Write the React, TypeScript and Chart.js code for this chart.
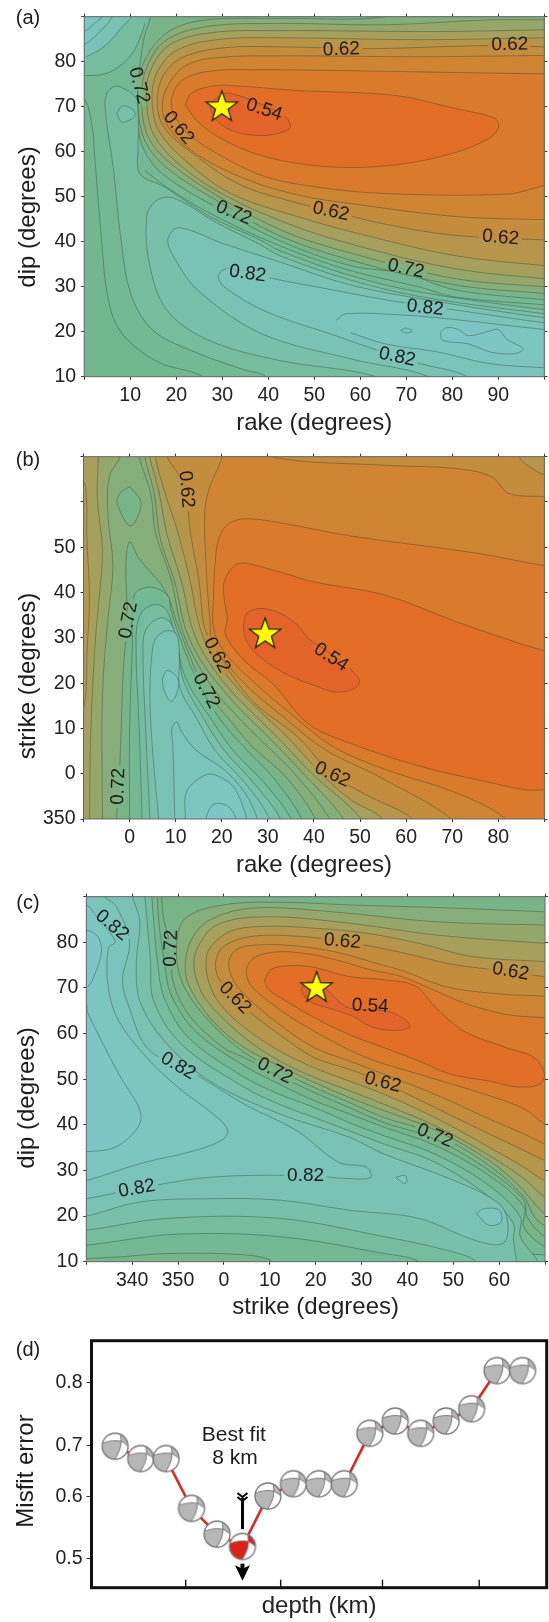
import React, { useEffect, useRef } from "react";
import { Chart, registerables } from "chart.js";

Chart.register(...registerables);

type P = [number, number];
const FONT = '"Liberation Sans", Arial, sans-serif';

// ---------- colours of the misfit bands ----------
const c54 = "#e3642b", c56 = "#e36e28", c58 = "#da7a2c", c60 = "#cf8433", c62 = "#c48c3d", c64 = "#b7964c",
  c66 = "#a79f5c", c68 = "#96a76c", c70 = "#86ae7b", c72 = "#78b488";
const t74 = "#74b993", t76 = "#76bd9f", t78 = "#78c0aa", t80 = "#7ac3b4", t82 = "#7bc4bb", t84 = "#7cc5c1", t86 = "#7dc6c5";
const base = "#72b78e";
const lineColour = "rgba(45,60,50,0.48)";

// ---------- panel (a): rake / dip contours ----------
const aT0: P[] = [[25.8,7],[25.8,10],[16,13.3],[8.3,19.5],[5.3,26.8],[3.7,41.3],[2.2,60.2],[1.8,65.3],[0,71.8],[-3,72],[-3,93],[103,93],[103,7]];
const aU1: P[] = [[-3,77],[0,76.9],[4.5,77.3],[8.3,79.5],[11,82.7],[13.6,90],[13.6,93],[-3,93]];
const aU2: P[] = [[-3,80],[0,80.9],[4.5,83.5],[8.3,87.8],[10.2,90],[10.2,93],[-3,93]];
const aU3: P[] = [[-3,83],[0,83.8],[3,86.3],[6.1,90],[6.1,93],[-3,93]];
const aU4: P[] = [[-3,86],[0,86.7],[2.2,88.5],[3.8,90],[3.8,93],[-3,93]];
const aT1: P[] = [[39.5,7],[39.5,10],[34.9,11.5],[25,15.1],[15.1,20.2],[10.2,28.2],[7.9,41.3],[6.4,55.8],[4.5,70.4],[5.3,73.6],[7.5,74.5],[11.7,71.1],[11.7,60.9],[12.1,55.1],[17.4,52.2],[27.3,45.6],[38,40.5],[42.5,38],[57.8,32.5],[73,28.8],[100,24.9],[103,24.9],[103,7]];
const aPocket: P[] = [[7.1,68.5],[8.3,70.2],[10.6,69.3],[11,67.8],[8.7,66.6],[8,66.7]];
const aT2: P[] = [[63.5,7],[63.5,10],[42.5,13.6],[27.3,18],[18.2,24.5],[14.4,34],[13.6,45.6],[15.9,49.3],[19.7,49.6],[28.8,44.2],[38,39.5],[42.5,36.9],[57.8,31.5],[73,27.8],[100,24],[103,24],[103,7]];
const aT3: P[] = [[74.9,7],[74.9,10],[57.8,14],[38.7,19.5],[25,28.9],[19.7,36.2],[18.2,40.5],[20.5,43.1],[30.4,39.5],[42.5,35.5],[57.8,30.4],[76.8,26.7],[100,23.1],[103,23.1],[103,7]];
const aT4: P[] = [[83.3,7],[83.3,10],[72.2,13.1],[63.9,15.8],[54.7,19.1],[39.5,24.5],[30.4,30],[29.2,32.5],[31.1,34],[41,31.8],[52.4,29.6],[67.7,26.7],[82.9,24.5],[100,22],[103,22],[103,7]];
const aT5: P[] = [[54.7,22.5],[57,24],[69.2,23.7],[80.6,22.7],[100,20.5],[103,20.5],[103,12],[100,12],[88.2,12.9],[76.8,15.5],[65.4,17.3],[57.8,19.8]];
const aT6: P[] = [[68.8,20.3],[69.9,20.8],[71.3,20.2],[69.9,19.7]];
const aT7: P[] = [[77.4,19.8],[78.7,20.9],[81.3,20.5],[83.5,19.1],[88.2,20.2],[90,20.5],[91.9,18.3],[95.4,16.2],[93.5,15.1],[88.2,15.5],[83.5,17.3],[77.9,18.1]];
const a74: P[] = [[13.2,55.8],[17.4,52.5],[26.6,46.7],[42.5,39.1],[57.8,33.6],[73,29.9],[80.6,27.7],[100,26],[103,26],[103,93],[13.2,93]];
const a72: P[] = [[14.4,93],[14.4,90],[12.9,84.9],[11.7,74.7],[11.7,68.9],[12.5,61.6],[17,55.1],[30.4,46.7],[42.5,40.2],[57.8,34.7],[69.9,32.9],[80.6,29.3],[100,27.1],[103,27],[103,93]];
const a70: P[] = [[65.4,93],[65.4,90],[42.5,89.6],[25.7,89.2],[17.4,86],[12.4,78.4],[11.7,70.4],[13.2,62.4],[18.2,56.2],[30.4,48.2],[42.5,41.3],[59.3,35.5],[80.6,30.4],[100,28.5],[103,28.3],[103,93]];
const a68: P[] = [[103,89.3],[100,89.3],[88.2,89.3],[65.4,88.2],[42.5,88.5],[26.6,87.8],[17.4,84.5],[13.2,77.6],[12.5,70.4],[14,63.1],[18.9,57.3],[30.4,49.3],[44.1,42],[60,36.9],[80.6,31.8],[100,30],[103,30]];
const a66: P[] = [[103,87.1],[100,87.1],[76.8,86.7],[42.5,86.9],[27.3,86.4],[18.2,83.5],[14,76.9],[13.6,70.4],[15.1,63.8],[20.5,57.3],[30.4,50.4],[45.6,43.5],[60.8,38.7],[80.6,34],[100,31.8],[103,31.8]];
const a64: P[] = [[103,85.3],[100,85.3],[73,84.9],[42.5,85.3],[28.8,84.9],[19.7,82.3],[15.5,76.8],[14.8,70.4],[16.3,64.5],[22,58],[31.9,50.7],[46.3,45.6],[61.6,41.3],[80.6,36.9],[100,34.7],[103,34.7]];
const a62: P[] = [[103,83.3],[100,83.3],[88.2,83.6],[61.6,82.9],[42.5,83.3],[30.4,83.1],[21.2,80.9],[17,76.5],[15.9,70.4],[17.4,65.3],[22.8,60.2],[33.4,52.9],[44.8,49],[53.6,46.8],[65.4,43.9],[80.6,41.4],[100,40.4],[103,40.4]];
const a60: P[] = [[103,81.4],[100,81.4],[73,81.1],[42.5,81.3],[28.8,80.9],[22,79.1],[18.2,74.7],[17,70.4],[18.2,65.6],[24.3,59.5],[34.9,54],[46.3,50.4],[57.8,48.5],[80.6,45.6],[100,44.9],[103,44.9]];
const a58: P[] = [[103,77.3],[100,77.3],[80.6,77.6],[57.8,78],[38.7,78.2],[27.3,77.9],[21.2,75.8],[19,71.8],[19.5,68.2],[22.8,63.8],[30.4,58.7],[39.5,54.4],[50.2,52.2],[65.4,50.7],[92,50.6],[100,52.5],[103,53]];
const a56: P[] = [[22,70.4],[23.1,72.9],[27.3,74.5],[31.9,74.7],[46.3,73.6],[67.7,72.5],[80.6,69.6],[89.1,67.5],[90.1,65.6],[88.2,63.1],[80.6,59.8],[69.2,57.3],[57.8,56.5],[46.3,57.4],[36.5,59.8],[28.8,63.5],[24.3,67.1]];
const a54: P[] = [[27.4,69.6],[29.3,66.4],[33.5,64.2],[38.8,63.6],[42.6,64.2],[44.8,65.4],[43.7,67.8],[38.8,70.4],[33.5,72.5],[30.9,73],[28.1,71.4]];
const aStar: P = [29.9, 70.1];
const aXLabels = [10, 20, 30, 40, 50, 60, 70, 80, 90];
const aYLabels = [10, 20, 30, 40, 50, 60, 70, 80];
const aText: [string, number, number, number][] = [
  ["0.62", 55.9, 82.7, -2], ["0.62", 92.5, 83.8, -1], ["0.72", 11.9, 74.7, 75], ["0.54", 39.1, 69.3, 18],
  ["0.62", 20.5, 65.3, 50], ["0.72", 32.5, 46.4, 22], ["0.62", 53.6, 46.7, 12], ["0.62", 90.5, 40.9, 5],
  ["0.72", 69.9, 34, 12], ["0.82", 35.5, 32.9, 8], ["0.82", 74.1, 25.3, 6], ["0.82", 68, 14.4, 12],
];

// ---------- panel (b): rake / strike contours (strike 350 is -10) ----------
const bL70: P[] = [[-2.1,73],[-2.1,69.9],[-4.4,65.6],[-4.7,56.8],[-3.6,45.9],[-4.7,34.3],[-5.9,16.9],[-5.9,-9.9],[-5.9,-13],[-13,-13],[-13,73]];
const bL68: P[] = [[-6.8,73],[-6.8,69.9],[-7,60.5],[-5.9,49.6],[-6.6,38.7],[-7.4,29.9],[-8.4,9.6],[-8.7,-9.9],[-8.7,-13],[-13,-13],[-13,73]];
const bL66: P[] = [[-13,14],[-10.1,14],[-9.2,27.8],[-8.7,38.7],[-9.3,53.2],[-9.3,59.7],[-10.1,64.8],[-13,65]];
const bHex: P[] = [[0.1,63.4],[2.5,59.7],[0.2,54.7],[-2.7,59.7],[-2.1,61.9]];
const bG72: P[] = [[-2.8,-13],[-2.8,-9.9],[-2.1,2.3],[-1.3,24.1],[-0.5,33.9],[-0.8,45.9],[0,51.2],[2.1,47.4],[7.5,40.8],[10.2,33.6],[13.2,25.6],[16.6,18.3],[21.2,12.5],[26.6,6],[33.8,-0.6],[40.3,-9.9],[40.3,-13]];
const bG74: P[] = [[0,-13],[0,-9.9],[0,9.6],[0.6,27.8],[1,39.4],[4.4,41.2],[8.2,39.4],[9,35.8],[11.7,27.8],[14.4,21.2],[19.3,12.5],[24.7,6],[31.5,-1.3],[37.3,-9.9],[37.3,-13]];
const bG76: P[] = [[2.7,-13],[2.7,-9.9],[2.1,9.6],[1.4,29.9],[2.5,35.4],[5.6,37.4],[8.2,35.8],[10.2,28.5],[12.4,20.5],[17.4,12.5],[22.4,5.2],[29.2,-2],[35,-9.9],[35,-13]];
const bG78: P[] = [[4.4,-13],[4.4,-9.9],[3.5,9.6],[2.9,27.8],[3.7,32.1],[6.7,34.4],[9,33.2],[10.5,27.8],[11.7,20.5],[15.9,12.5],[20.5,5.2],[26.9,-2],[32.7,-9.9],[32.7,-13]];
const bG80: P[] = [[6.3,-13],[6.3,-9.9],[5.2,2.3],[4.4,16.9],[5,27.8],[6,30.3],[8.2,31.6],[10.2,30.7],[10.8,25.6],[10.9,19],[14.4,12.5],[18.5,5.2],[25,-2],[30.4,-9.9],[30.4,-13]];
const bG82: P[] = [[9.8,-13],[9.8,-9.9],[9.4,6],[9.2,10],[10.2,11.4],[11.3,9.2],[14.4,5.2],[20.5,0.9],[25,-4.2],[27.7,-9.9],[27.7,-13]];
const bG84a: P[] = [[7.1,20.9],[8.2,22.8],[10.5,20.9],[10.2,17.6],[9,16],[7.5,18.3]];
const bG84b: P[] = [[12.1,-13],[12.1,-9.9],[12.4,-3.9],[16.6,-0.2],[19.3,-0.6],[22.7,-3.1],[25.4,-9.9],[25.4,-13]];
const bG86: P[] = [[16.6,-13],[16.6,-9.9],[18.2,-6.8],[21.2,-7.1],[23.1,-9.9],[23.1,-13]];
const b70: P[] = [[2.1,73],[2.1,69.9],[4.6,61.9],[5.6,53.2],[9,43],[11.3,32.1],[14.4,24.9],[18.5,18.3],[23.5,12.5],[29.2,6.7],[35.7,0.1],[43.4,-9.9],[43.4,-13],[93,-13],[93,73]];
const b68: P[] = [[3.3,73],[3.3,69.9],[5.2,62.6],[6.7,51.7],[9.8,42.3],[12.1,32.1],[15.5,24.9],[20.1,18.7],[25,13.2],[30.8,7.4],[37.6,0.1],[46.4,-9.9],[46.4,-13],[93,-13],[93,73]];
const b66: P[] = [[4.4,73],[4.4,69.9],[6.3,62.6],[8.2,52.5],[11.3,42.3],[13.6,32.1],[16.6,25.6],[22,18.3],[26.9,13.2],[32.7,7.4],[39.5,0.1],[50.2,-9.9],[50.2,-13],[93,-13],[93,73]];
const b64: P[] = [[5.6,73],[5.6,69.9],[7.5,62.6],[10.5,53.2],[13.2,42.3],[15.1,32.8],[17.8,26.3],[23.9,18.3],[28.9,13.2],[34.2,8.1],[41.5,0.1],[47.9,-5.7],[54.8,-9.9],[54.8,-13],[93,-13],[93,73]];
const b62: P[] = [[93,65.9],[90.3,65.9],[86.9,67.7],[84.6,69.9],[84.6,73],[8.2,73],[8.2,69.9],[10.5,66.3],[12.1,63],[13.2,53.2],[15.1,42.3],[16.3,32.1],[19.3,26.3],[26.6,16.1],[36.5,8.1],[44,-0.2],[51.8,-4.9],[61.3,-9.9],[61.3,-13],[93,-13]];
const b60: P[] = [[93,61.2],[90.3,61.2],[82.3,61.9],[78.5,65.6],[70.8,67.4],[55.6,68.1],[31.1,69.9],[31.1,73],[20.1,73],[20.1,69.9],[17.4,63.4],[16.3,57.6],[16.6,45.9],[17.4,34.3],[18.2,28.5],[25,19.8],[33.4,12.5],[42.6,5.2],[54,-0.6],[69.7,-9.9],[69.7,-13],[93,-13]];
const b58: P[] = [[93,45.9],[90.3,45.9],[74.7,48.8],[47.9,52.5],[32.7,55.4],[25,56.3],[21.2,55],[19.3,51.7],[18.5,45.9],[18.2,38.7],[18.2,32.1],[20.5,27],[26.6,20.5],[35,13.2],[44.1,6],[55.6,0.9],[70.8,-4.2],[81.5,-9.9],[81.5,-13],[93,-13]];
const b56: P[] = [[93,27],[90.3,27],[70.8,33.6],[55.6,39.4],[40.3,42.3],[32.7,44.5],[25,46.5],[22.7,45.9],[20.5,42.3],[20.5,38.7],[21.2,34.3],[20.8,30.7],[25,24.9],[31.1,19.8],[38.8,11],[47.9,6.7],[63.2,1.6],[78.5,-2],[86.1,-3.6],[90.3,-3.5],[93,-3.5]];
const b54: P[] = [[24.7,32.8],[25.4,35.4],[28.5,36.5],[32.7,35.4],[36.5,32.8],[38.8,29.9],[44.9,25.6],[49.8,20.9],[49.1,19],[44.9,18],[40.3,19.4],[34.2,21.9],[28.5,25.6],[25.4,29.2]];
const bStar: P = [29.4, 31];
const bXLabels = [0, 10, 20, 30, 40, 50, 60, 70, 80];
const bYLabels = [0, 10, 20, 30, 40, 50];
const bStrikeWrap = -10; // shown as 350 on the axis
const bText: [string, number, number, number][] = [
  ["0.62", 12.3, 62.8, 85], ["0.72", -0.2, 33.9, -80], ["0.62", 18.9, 26.2, 62], ["0.72", 16.6, 18.3, 62],
  ["0.54", 43.7, 25.7, 33], ["0.62", 44, -0.2, 25], ["0.72", -2.4, -2.8, -88],
];

// ---------- panel (c): strike / dip contours (strike 340, 350 are -20, -10) ----------
const c74p: P[] = [[10.6,7],[10.6,10],[4.5,11.5],[-12.3,11.8],[-22.1,11.1],[-30,10.7],[-33,10.7],[-33,93],[-14.5,93],[-14.5,90],[-14.2,84.5],[-13,75.8],[-11.5,68.5],[-6.2,60.5],[4.5,52.9],[12.1,48.9],[19.7,45.3],[27.3,42.4],[34.9,39.5],[46,35.5],[57.8,28.9],[65.4,22],[65.4,17.6],[69.9,13.3],[73,13],[73,7]];
const c76p: P[] = [[42.5,7],[42.5,10],[34.9,11.8],[12.1,15.5],[-10.7,16],[-30,13.6],[-33,13.6],[-33,93],[-15.7,93],[-15.7,90],[-15.3,84.5],[-14.5,75.8],[-13,67.8],[-7.7,59.1],[4.5,50.4],[12.1,46.7],[19.7,43.8],[27.3,40.5],[34.9,37.6],[46,33.6],[57.8,26.7],[64.6,19.8],[64.6,15.5],[68.4,10],[68.4,7]];
const c78p: P[] = [[55.1,7],[55.1,10],[48.6,12.5],[34.9,15.5],[12.1,19.5],[-12.3,19.5],[-30,16.9],[-33,16.9],[-33,93],[-17.2,93],[-17.2,90],[-16.8,85.3],[-16,75.8],[-15.3,67.1],[-9.2,57.6],[4.5,48.2],[12.1,44.5],[19.7,41.6],[27.3,38.7],[34.9,35.8],[46,31.8],[57.8,24.2],[63.1,18.4],[63.1,14.7],[63.8,10],[63.8,7]];
const c80p: P[] = [[-33,20],[-30,20],[-18.3,23.1],[-3.1,23.8],[12.1,23.5],[27.3,21.3],[42.5,19.5],[54.7,14.7],[60.8,14],[61.9,18.4],[60,22.7],[50.2,27.8],[34.9,33.6],[27.3,37.3],[12.1,42.4],[-3.1,49.6],[-13,58.4],[-18.3,67.1],[-19.1,75.8],[-18.3,84.5],[-19.9,90],[-19.9,93],[-33,93]];
const c82p: P[] = [[-33,23.8],[-30,23.8],[-19.1,26],[-3.1,28.5],[17.8,28.9],[27.3,28.2],[32,28.5],[31.1,30.7],[25,31.8],[15.9,38.7],[4.5,44.5],[-6.2,51.1],[-10,52.9],[-16.8,56.9],[-20.6,65.6],[-22.1,71.5],[-20.6,80.2],[-23.7,88.2],[-26,90],[-26,93],[-33,93]];
const c84p: P[] = [[-33,27.8],[-30,27.8],[-18.3,31.5],[-6.2,34.4],[-0.1,36.9],[0.7,39.1],[-2.4,42.4],[-10,48.2],[-16.8,54.7],[-22.9,62.7],[-25.2,70],[-25.2,78.7],[-23.7,80.2],[-27.5,85.3],[-30,88.2],[-33,88.2]];
const cA: P[] = [[-33,66.4],[-30,66.4],[-29.8,64.9],[-26.7,58.4],[-22.9,51.1],[-18.3,43.1],[-18.7,39.5],[-23.7,35.1],[-30,34.1],[-33,34.1]];
const cB: P[] = [[-33,82.7],[-30,82.7],[-27.5,81.3],[-26.7,78],[-28.2,72.9],[-30,70],[-33,70]];
const cSmall: P[] = [[37.6,28.5],[39.5,28.9],[39.9,27.5],[39.1,27.2]];
const cLoop: P[] = [[55.1,20.5],[56.6,21.6],[60,21.3],[60.4,18.7],[57.8,18]];
const cCorner: P[] = [[63.8,7],[63.8,10],[66.1,11.5],[69.9,11.5],[73,11.5],[73,7]];
const c72p: P[] = [[-13.6,93],[-13.6,90],[-13,84.5],[-11.5,78.7],[-11.1,71.5],[-7.7,64.2],[-0.1,56.9],[4.5,54.7],[12.1,50.7],[19.7,47.1],[27.3,43.8],[34.9,40.5],[46,36.9],[57.8,30],[65.4,23.5],[66.1,19.8],[69.9,15.5],[73,15],[73,93]];
const c70p: P[] = [[73,86.7],[69.9,86.7],[50.2,87.5],[27.3,88.2],[12.1,88.8],[-0.1,88.2],[-8.4,85.3],[-10.3,79.5],[-9.2,71.5],[-3.9,63.5],[4.5,55.8],[12.1,51.8],[19.7,48.2],[27.3,44.9],[34.9,41.6],[46,38],[57.8,31.1],[65.4,24.2],[67.7,19.8],[69.9,18],[73,18]];
const c68p: P[] = [[73,83.8],[69.9,83.8],[46.3,84.5],[23.5,86.7],[6,87.5],[-3.1,84.9],[-6.9,80.9],[-8.4,75.8],[-7.7,70.7],[-2.4,62.7],[4.5,56.9],[12.1,52.9],[19.7,49.3],[27.3,46],[34.9,43.1],[46,38.9],[57.8,32.2],[64.6,26.4],[69.9,20.5],[73,20]];
const c66p: P[] = [[73,79.8],[69.9,79.8],[46.3,81.6],[27.3,84.2],[9.1,85.6],[-1.6,83.8],[-5.8,78.7],[-6.5,74.4],[-5,69.3],[-2.4,65.6],[4.5,59.1],[12.1,54],[19.7,50.4],[27.3,47.5],[34.9,44.5],[46,39.8],[57.8,33.3],[65.4,28.2],[69.9,24.2],[73,23]];
const c64p: P[] = [[73,75.8],[69.9,75.8],[54,76.9],[42.5,79.8],[31.1,82],[19.7,83.1],[9.1,83.5],[1.4,82.4],[-3.1,78.7],[-3.9,75.1],[-3.1,70.7],[-0.8,66.4],[4.5,61.3],[12.1,56.2],[19.7,52.5],[27.3,49.6],[34.9,46.7],[46,41.6],[57.8,35.1],[65.4,30.7],[69.9,27.8],[73,27]];
const c62p: P[] = [[73,72.5],[69.9,72.5],[62.3,73.6],[50.2,75.1],[42.5,76.9],[33.4,78.9],[25.8,80.2],[16.7,81.3],[6,81.3],[-0.1,79.1],[-1.8,75.8],[-1.2,72.2],[2.2,67.8],[4.5,65.6],[12.1,59.8],[19.7,54.7],[27.3,52.2],[34.6,49.3],[46,43.8],[57.8,38],[65.4,34.4],[69.9,32.2],[73,31]];
const c60p: P[] = [[73,68.2],[69.9,68.2],[57.8,68.9],[47.9,70.4],[39.5,73.6],[31.9,75.8],[24.3,77.9],[16.7,79.1],[9.1,79.5],[3,78.6],[1.1,75.8],[1.8,72.2],[4.5,68.5],[12.1,62],[19.7,56.9],[27.3,54],[34.9,51.1],[46,46.7],[57.8,41.3],[65.4,38],[69.9,35.8],[73,35]];
const c58p: P[] = [[73,63.5],[69.9,63.5],[61.6,64.2],[52.4,66.7],[45.6,69.6],[38.7,72.5],[31.9,74],[24.3,76.2],[17.4,77.6],[11.3,77.9],[6.4,76.5],[4.9,73.6],[6,70.4],[12.1,65.3],[19.7,60.5],[31.1,54.7],[42.5,51.1],[57.8,46.4],[65.4,43.5],[69.9,40.2],[73,39]];
const c56p: P[] = [[8.8,71.5],[10.2,74],[14.4,74.9],[19.7,74.5],[27.3,72.5],[34.9,71.8],[41.8,70.4],[46.3,65.6],[52.4,60.5],[61.6,56.9],[67.7,54.7],[69.9,51.1],[68.8,48.9],[63.9,48.3],[57.8,49.6],[49.4,51.1],[42.5,54],[34.9,56.9],[27.3,59.8],[19.7,63.5],[13.6,67.1],[9.8,69.6]];
const c54p: P[] = [[16.7,69.6],[18.6,71.5],[22,70],[24.3,67.8],[27.3,65.6],[35.7,64.9],[39.9,62.7],[40.4,61.3],[36.5,60.7],[31.9,61.6],[28.1,63.8],[22.8,65.6],[18.6,67.1]];
const cStar: P = [20.2, 70.2];
const cXLabels = [-20, -10, 0, 10, 20, 30, 40, 50, 60];
const cXNames = ["340", "350", "0", "10", "20", "30", "40", "50", "60"];
const cYLabels = [10, 20, 30, 40, 50, 60, 70, 80];
const cText: [string, number, number, number][] = [
  ["0.82", -24.4, 83.7, 40], ["0.72", -11.5, 78.7, -88], ["0.62", 25.8, 80.2, 5], ["0.62", 62.5, 73.6, 10],
  ["0.62", 2.4, 67.8, 45], ["0.54", 31.9, 66, 3], ["0.82", -10, 52.9, 30], ["0.72", 11.1, 51.8, 27],
  ["0.62", 34.6, 49.3, 15], ["0.72", 46, 37.6, 22], ["0.82", 17.8, 28.9, 0], ["0.82", -19, 26, -10],
];

// ---------- panel (d): misfit against depth ----------
const depths = [3, 4, 5, 6, 7, 8, 9, 10, 11, 12, 13, 14, 15, 16, 17, 18, 19];
const misfit = [0.692, 0.671, 0.671, 0.586, 0.542, 0.521, 0.607, 0.628, 0.628, 0.628, 0.714, 0.735, 0.714, 0.735, 0.756, 0.821, 0.821];
const bestDepth = 8;
const misfitTicks = [0.5, 0.6066, 0.693, 0.8];
const misfitTickNames = ["0.5", "0.6", "0.7", "0.8"];
const depthTicks = [5.77, 9.5, 13.5, 17.3];

// ---------- drawing helpers ----------
function makeStar() {
  const cv = document.createElement("canvas");
  cv.width = 38; cv.height = 38;
  const g = cv.getContext("2d")!;
  g.translate(19, 20);
  g.beginPath();
  for (let i = 0; i < 10; i++) {
    const r = i % 2 === 0 ? 16.5 : 6.6;
    const a = -Math.PI / 2 + (i * Math.PI) / 5;
    const px = r * Math.cos(a), py = r * Math.sin(a);
    if (i === 0) g.moveTo(px, py); else g.lineTo(px, py);
  }
  g.closePath();
  g.fillStyle = "#ffff00"; g.fill();
  g.lineWidth = 1.2; g.strokeStyle = "#1a1a1a"; g.stroke();
  return cv;
}

function makeBall(fill: string) {
  const cv = document.createElement("canvas");
  cv.width = 32; cv.height = 32;
  const g = cv.getContext("2d")!;
  g.translate(16, 16);
  g.beginPath(); g.arc(0, 0, 13, 0, Math.PI * 2); g.fillStyle = "#fff"; g.fill();
  g.save(); g.clip();
  g.fillStyle = fill;
  g.beginPath(); g.moveTo(-15, -2); g.quadraticCurveTo(-4, -7, 6, -5); g.quadraticCurveTo(6, 5, -2, 15); g.lineTo(-15, 15); g.closePath(); g.fill();
  g.beginPath(); g.moveTo(6, -5); g.quadraticCurveTo(10, -3, 15, 2); g.lineTo(15, -15); g.lineTo(5, -15); g.closePath(); g.fill();
  g.strokeStyle = "#666"; g.lineWidth = 0.8;
  g.beginPath(); g.moveTo(-15, -2); g.quadraticCurveTo(-4, -7, 6, -5); g.quadraticCurveTo(10, -3, 15, 2); g.stroke();
  g.beginPath(); g.moveTo(5, -15); g.lineTo(6, -5); g.quadraticCurveTo(6, 5, -2, 15); g.stroke();
  g.restore();
  g.beginPath(); g.arc(0, 0, 13, 0, Math.PI * 2); g.strokeStyle = "#777"; g.lineWidth = 1.3; g.stroke();
  return cv;
}

function bandFor(label: string) {
  return label === "0.54" ? c56 : label === "0.62" ? c62 : label === "0.72" ? c72 : t82;
}

const contourPlugin = {
  id: "contourFill",
  beforeDatasetsDraw(chart: any) {
    const a = chart.chartArea;
    if (chart.options.plugins.contourFill?.base) {
      chart.ctx.fillStyle = chart.options.plugins.contourFill.base;
      chart.ctx.fillRect(a.left, a.top, a.width, a.height);
    }
  },
  beforeDatasetDraw(chart: any, args: any) {
    const ds = chart.data.datasets[args.index];
    if (!ds.regionFill) return;
    const { ctx, chartArea: a } = chart;
    ctx.save();
    ctx.beginPath(); ctx.rect(a.left, a.top, a.width, a.height); ctx.clip();
    args.meta.dataset.updateControlPoints(a, "x");
    ctx.beginPath();
    args.meta.dataset.path(ctx);
    ctx.closePath();
    ctx.fillStyle = ds.regionFill;
    ctx.fill();
    ctx.restore();
  },
  afterDatasetsDraw(chart: any) {
    const o = chart.options.plugins.contourFill || {};
    const { ctx, chartArea: a, scales } = chart;
    ctx.save();
    ctx.fillStyle = "#1c1c1c";
    ctx.textAlign = "center"; ctx.textBaseline = "middle";
    for (const [text, x, y, deg] of (o.labels || [])) {
      ctx.save();
      ctx.translate(scales.x.getPixelForValue(x), scales.y.getPixelForValue(y));
      ctx.rotate((deg * Math.PI) / 180);
      ctx.font = "19px " + FONT;
      const w = ctx.measureText(text).width;
      ctx.fillStyle = bandFor(text);
      ctx.fillRect(-w / 2 - 3, -2.5, w + 6, 5);
      ctx.fillStyle = "#1c1c1c";
      ctx.fillText(text, 0, 0);
      ctx.restore();
    }
    ctx.strokeStyle = o.frame || "#666";
    ctx.lineWidth = o.frameWidth || 1;
    ctx.strokeRect(a.left, a.top, a.width, a.height);
    ctx.restore();
  },
  afterDraw(chart: any) {
    const o = chart.options.plugins.contourFill || {};
    const { ctx } = chart;
    ctx.save();
    ctx.fillStyle = "#1c1c1c";
    ctx.textAlign = "center"; ctx.textBaseline = "middle";
    if (o.panel) { ctx.font = "20px " + FONT; ctx.fillText(o.panel, 28, o.panelY); }
    if (o.yTitle) {
      ctx.translate(o.yTitleX, o.yTitleY);
      ctx.rotate(-Math.PI / 2);
      ctx.font = "24px " + FONT;
      ctx.fillText(o.yTitle, 0, 0);
    }
    ctx.restore();
  },
};

const depthPlugin = {
  id: "depthExtras",
  afterDatasetsDraw(chart: any) {
    const { ctx, scales, chartArea: a } = chart;
    const xs = scales.x, ys = scales.y;
    ctx.save();
    ctx.strokeStyle = "#111"; ctx.lineWidth = 1.4;
    for (const v of depthTicks) {
      const px = xs.getPixelForValue(v);
      ctx.beginPath(); ctx.moveTo(px, a.bottom); ctx.lineTo(px, a.bottom - 8); ctx.stroke();
    }
    const bx = xs.getPixelForValue(bestDepth);
    ctx.strokeStyle = "#000"; ctx.lineWidth = 3;
    ctx.beginPath(); ctx.moveTo(bx, ys.getPixelForValue(0.5505)); ctx.lineTo(bx, ys.getPixelForValue(0.6037)); ctx.stroke();
    ctx.lineWidth = 2;
    for (const v of [0.5985, 0.6055]) {
      const py = ys.getPixelForValue(v);
      ctx.beginPath(); ctx.moveTo(bx - 5, py - 4); ctx.lineTo(bx, py); ctx.lineTo(bx + 5, py - 4); ctx.stroke();
    }
    const t = ys.getPixelForValue(0.4916), tip = ys.getPixelForValue(0.4624);
    ctx.fillStyle = "#000";
    ctx.fillRect(bx - 2, t, 4, 6);
    ctx.beginPath(); ctx.moveTo(bx - 7.5, t + 1.5); ctx.lineTo(bx, t + 5); ctx.lineTo(bx + 7.5, t + 1.5); ctx.lineTo(bx, tip); ctx.closePath();
    ctx.fill();
    ctx.fillStyle = "#1c1c1c"; ctx.font = "21px " + FONT; ctx.textAlign = "center"; ctx.textBaseline = "middle";
    ctx.fillText("Best fit", xs.getPixelForValue(7.66), ys.getPixelForValue(0.7114));
    ctx.fillText("8 km", xs.getPixelForValue(7.71), ys.getPixelForValue(0.671));
    ctx.restore();
  },
};

function axis(position: string, min: number, max: number, extra: any) {
  return {
    type: "linear", position, min, max,
    border: { display: false },
    grid: { drawOnChartArea: false, tickLength: 3, color: "#333", ...(extra.grid || {}) },
    ticks: { stepSize: 10, autoSkip: false, maxRotation: 0, ...(extra.ticks || {}) },
    afterFit: extra.afterFit,
    title: extra.title,
    afterBuildTicks: extra.afterBuildTicks,
  };
}

const tickFont = { family: FONT, size: 19.5 };

function contourConfig(p: any) {
  const layers: any[] = p.layers;
  const datasets: any[] = layers.map(([pts, colour, closed]: any, i: number) => ({
    type: "line",
    data: (closed ? [...pts, pts[0]] : pts).map(([x, y]: P) => ({ x, y })),
    regionFill: colour,
    borderColor: lineColour,
    borderWidth: 0.8,
    pointRadius: 0,
    fill: false,
    tension: 0.35,
    order: layers.length + 1 - i,
  }));
  datasets.push({
    type: "scatter",
    data: [{ x: p.star[0], y: p.star[1] }],
    pointStyle: makeStar(),
    pointRadius: 16,
    order: 0,
    clip: false,
  });
  const labelOf = p.xName;
  return {
    type: "line",
    data: { datasets },
    plugins: [contourPlugin],
    options: {
      animation: false, responsive: false, devicePixelRatio: 1,
      layout: { autoPadding: false, padding: 0 },
      elements: { line: { capBezierPoints: false } },
      plugins: {
        legend: { display: false }, tooltip: { enabled: false },
        contourFill: { base: p.base, labels: p.labels, panel: p.panel, panelY: p.panelY, yTitle: p.yTitle, yTitleX: p.yTitleX, yTitleY: p.yTitleY },
      },
      scales: {
        x: axis("bottom", p.xMin, p.xMax, {
          ticks: { font: tickFont, color: "#222", padding: 4, callback: labelOf },
          afterFit(s: any) { s.height = p.h - p.bottom; },
          title: { display: true, text: p.xTitle, color: "#222", font: { family: FONT, size: 24 }, padding: { top: 0, bottom: p.titlePad } },
        }),
        y: axis("left", p.yMin, p.yMax, {
          ticks: { font: tickFont, color: "#222", padding: 5, callback: p.yName },
          afterFit(s: any) { s.width = p.left; },
        }),
        x2: axis("top", p.xMin, p.xMax, { ticks: { display: false }, afterFit(s: any) { s.height = p.top; } }),
        y2: axis("right", p.yMin, p.yMax, { ticks: { display: false }, afterFit(s: any) { s.width = p.w - p.right; } }),
      },
    },
  };
}

const W = 549;

function depthConfig(top: number, h: number) {
  const grey = makeBall("#b7b7b7");
  const red = makeBall("#dc2118");
  return {
    type: "line",
    data: {
      datasets: [{
        data: depths.map((x, i) => ({ x, y: misfit[i] })),
        borderColor: "#e1261c", borderWidth: 2.6, tension: 0, fill: false,
        pointRadius: 13,
        pointStyle: depths.map((d) => (d === bestDepth ? red : grey)),
      }],
    },
    plugins: [contourPlugin, depthPlugin],
    options: {
      animation: false, responsive: false, devicePixelRatio: 1,
      layout: { autoPadding: false, padding: 0 },
      plugins: {
        legend: { display: false }, tooltip: { enabled: false },
        contourFill: { frame: "#111", frameWidth: 3, panel: "(d)", panelY: 1350 - top, yTitle: "Misfit error", yTitleX: 26, yTitleY: 1471 - top },
      },
      scales: {
        x: {
          type: "linear", position: "bottom", min: 2.07, max: 19.95, border: { display: false },
          grid: { display: false, drawTicks: false },
          ticks: { display: false },
          afterFit(s: any) { s.height = h - (1587.7 - top); },
          title: { display: true, text: "depth (km)", color: "#222", font: { family: FONT, size: 24 }, padding: { top: 0, bottom: 1 } },
        },
        y: {
          type: "linear", position: "left", min: 0.4506, max: 0.872, border: { display: false },
          grid: { drawOnChartArea: false, tickLength: 5, color: "#333" },
          afterBuildTicks(s: any) { s.ticks = misfitTicks.map((value) => ({ value })); },
          ticks: { font: tickFont, color: "#222", padding: 4, autoSkip: false, callback: (_: any, i: number) => misfitTickNames[i] },
          afterFit(s: any) { s.width = 91.5; },
        },
        x2: { type: "linear", position: "top", display: true, min: 0, max: 1, border: { display: false }, grid: { display: false, drawTicks: false }, ticks: { display: false }, afterFit(s: any) { s.height = 1337.5 - top; } },
        y2: { type: "linear", position: "right", display: true, min: 0, max: 1, border: { display: false }, grid: { display: false, drawTicks: false }, ticks: { display: false }, afterFit(s: any) { s.width = W - 546.7; } },
      },
    },
  };
}

function Panel({ top, h, make }: { top: number; h: number; make: () => any }) {
  const ref = useRef<HTMLCanvasElement>(null);
  useEffect(() => {
    const chart = new Chart(ref.current as any, make());
    return () => chart.destroy();
  }, []);
  return <canvas ref={ref} width={W} height={h} style={{ position: "absolute", left: 0, top, width: W, height: h, display: "block", filter: "blur(0.35px)" }} />;
}

const showIf = (list: number[]) => (v: number) => (list.includes(v) ? String(v) : "");

const aConfig = () => contourConfig({
  w: W, h: 440, left: 84.2, right: 544.3, top: 10, bottom: 376.7, titlePad: 2.5,
  xMin: 0, xMax: 100, yMin: 10, yMax: 90, star: aStar, base,
  xName: showIf(aXLabels), yName: showIf(aYLabels), xTitle: "rake (degrees)",
  yTitle: "dip (degrees)", yTitleX: 28, yTitleY: 217, panel: "(a)", panelY: 18, labels: aText,
  layers: [
    [aT0, t74], [aU1, t76], [aU2, t80], [aU3, t82], [aU4, t84], [aT1, t76], [aPocket, t78, true], [aT2, t78], [aT3, t80], [aT4, t82],
    [aT5, t84], [aT6, t86, true], [aT7, t86, true], [a74, t74], [a72, c72], [a70, c70], [a68, c68], [a66, c66], [a64, c64], [a62, c62],
    [a60, c60], [a58, c58], [a56, c56, true], [a54, c54, true],
  ],
});

const bConfig = () => contourConfig({
  w: W, h: 440, left: 83.5, right: 544.4, top: 13.3, bottom: 379, titlePad: 0.5,
  xMin: -10, xMax: 90, yMin: bStrikeWrap, yMax: 70, star: bStar, base: c70,
  xName: showIf(bXLabels),
  yName: (v: number) => (v === bStrikeWrap ? "350" : bYLabels.includes(v) ? String(v) : ""),
  xTitle: "rake (degrees)", yTitle: "strike (degrees)", yTitleX: 28, yTitleY: 676 - 440, panel: "(b)", panelY: 20, labels: bText,
  layers: [
    [bL70, c68], [bL68, c66], [bL66, c64], [bHex, c72, true], [bG72, c72], [bG74, t74], [bG76, t76], [bG78, t78], [bG80, t80], [bG82, t82],
    [bG84a, t84, true], [bG84b, t84], [bG86, t86], [b70, c70], [b68, c68], [b66, c66], [b64, c64], [b62, c62], [b60, c60], [b58, c58], [b56, c56], [b54, c54, true],
  ],
});

const cConfig = () => contourConfig({
  w: W, h: 445, left: 86.3, right: 546.3, top: 14.7, bottom: 381.7, titlePad: 3,
  xMin: -30, xMax: 70, yMin: 10, yMax: 90, star: cStar, base: c72,
  xName: (v: number) => { const i = cXLabels.indexOf(v); return i < 0 ? "" : cXNames[i]; },
  yName: showIf(cYLabels),
  xTitle: "strike (degrees)", yTitle: "dip (degrees)", yTitleX: 27, yTitleY: 1098 - 880, panel: "(c)", panelY: 23, labels: cText,
  layers: [
    [c74p, t74], [cCorner, t76], [c76p, t76], [c78p, t78], [c80p, t80], [c82p, t82], [c84p, t84], [cA, t86], [cB, t86], [cSmall, t84, true], [cLoop, t84, true],
    [c72p, c72], [c70p, c70], [c68p, c68], [c66p, c66], [c64p, c64], [c62p, c62], [c60p, c60], [c58p, c58], [c56p, c56, true], [c54p, c54, true],
  ],
});

export default function App() {
  return (
    <div style={{ position: "absolute", left: 0, top: 0, width: W, height: 1622, background: "#fff", overflow: "hidden" }}>
      <Panel top={0} h={440} make={aConfig} />
      <Panel top={440} h={440} make={bConfig} />
      <Panel top={880} h={445} make={cConfig} />
      <Panel top={1325} h={297} make={() => depthConfig(1325, 297)} />
    </div>
  );
}
